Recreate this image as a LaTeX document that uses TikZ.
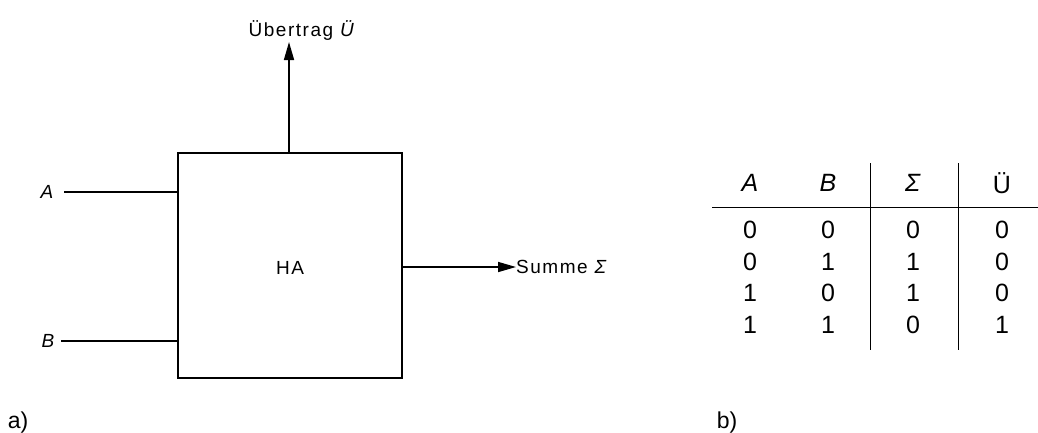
\documentclass[tikz,border=0pt]{standalone}
\usepackage{fontspec}
\setmainfont{Liberation Sans}
\usetikzlibrary{arrows.meta}
\tikzset{
  wire/.style={line width=1.6pt},
  outarrow/.style={wire,-{Triangle[length=18pt,width=10pt]}},
  blockbox/.style={draw,line width=2pt,minimum width=224pt,minimum height=225pt,inner sep=0pt},
  lbl/.style={font=\fontsize{19}{22}\selectfont\addfontfeatures{LetterSpace=8},inner sep=0pt},
  cell/.style={font=\fontsize{25}{28}\selectfont,inner sep=0pt},
  rule/.style={line width=1pt},
  sub/.style={font=\fontsize{23}{26}\selectfont,inner sep=0pt}
}
\begin{document}
\begin{tikzpicture}[x=1pt,y=-1pt]
\useasboundingbox (0,0) rectangle (1038,432);

% half adder block
\node[blockbox] (ha) at (290,265.5) {};
\node[lbl] (hatxt) at (290,268) {HA};

% inputs
\node[lbl] (a) at (47,192) {\itshape A};
\node[lbl] (b) at (48,341) {\itshape B};
\coordinate (ain) at (64,192);
\coordinate (bin) at (61,341);
\draw[wire] (ain) -- (ain -| ha.west);
\draw[wire] (bin) -- (bin -| ha.west);

% carry output
\node[lbl] (carry) at (302,31) {Übertrag \textit{Ü}};
\coordinate (ctip) at (289,42);
\draw[outarrow] (ctip |- ha.north) -- (ctip);

% sum output
\node[lbl,anchor=west] (sum) at (516,267) {Summe \textit{Σ}};
\draw[outarrow] (sum.west -| ha.east) -- (sum.west);

% truth table
\foreach \x/\t [count=\i] in {750/\textit{A},828/\textit{B},913/\textit{Σ},1002/Ü}
  \node[cell] (h\i) at (\x,183) {\t};
\foreach \r/\y in {1/230,2/262,3/293,4/325}{
  \foreach \x [count=\c] in {750,828,913,1002}
    \node[cell] (r\r c\c) at (\x,\y) {};
}
\node[cell] at (r1c1) {0}; \node[cell] at (r1c2) {0}; \node[cell] at (r1c3) {0}; \node[cell] at (r1c4) {0};
\node[cell] at (r2c1) {0}; \node[cell] at (r2c2) {1}; \node[cell] at (r2c3) {1}; \node[cell] at (r2c4) {0};
\node[cell] at (r3c1) {1}; \node[cell] at (r3c2) {0}; \node[cell] at (r3c3) {1}; \node[cell] at (r3c4) {0};
\node[cell] at (r4c1) {1}; \node[cell] at (r4c2) {1}; \node[cell] at (r4c3) {0}; \node[cell] at (r4c4) {1};
\draw[rule] (712,207) -- (1038,207);
\draw[rule] (870,163) -- (870,350);
\draw[rule] (958,163) -- (958,350);

% part labels
\node[sub] (la) at (18,423) {a)};
\node[sub] (lb) at (727,423) {b)};
\end{tikzpicture}
\end{document}
